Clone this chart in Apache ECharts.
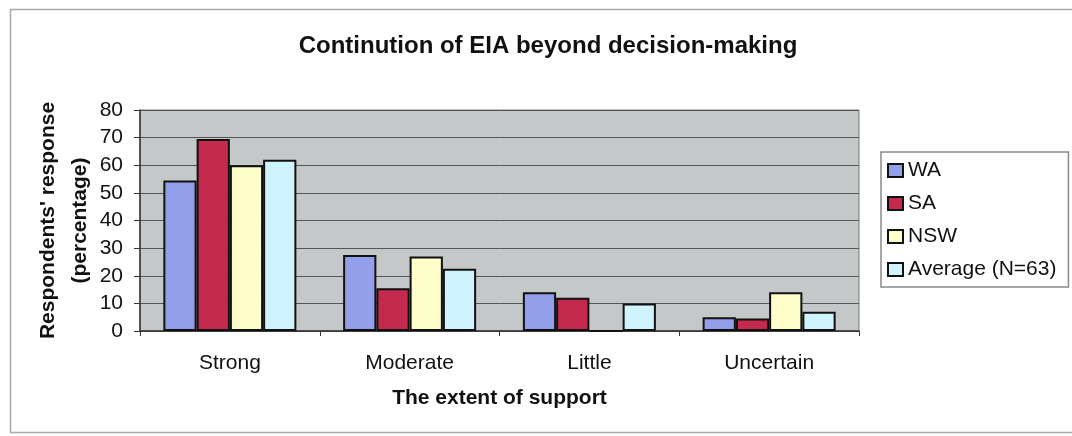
<!DOCTYPE html>
<html>
<head>
<meta charset="utf-8">
<style>
  html, body { margin: 0; padding: 0; background: #fff; }
  #chart { width: 1072px; height: 436px; }
</style>
<script src="https://cdn.jsdelivr.net/npm/echarts@6/dist/echarts.min.js"></script>
</head>
<body>
<div id="chart"></div>
<script>
// Extent of support for continuing EIA after decision-making (percent of respondents)
const categories = ['Strong', 'Moderate', 'Little', 'Uncertain'];
const waValues = [54.5, 27.5, 14, 5];
const saValues = [69.5, 15.5, 12, 4.5];
const nswValues = [60, 27, 0, 14];
const averageValues = [62, 22.5, 10, 7];
const seriesNames = ['WA', 'SA', 'NSW', 'Average (N=63)'];
const yTicks = [0, 10, 20, 30, 40, 50, 60, 70, 80];

const FONT = '"Liberation Sans", Arial, sans-serif';
const colors = ['#939fe8', '#c42a4e', '#ffffcc', '#cff3ff'];
const seriesData = [waValues, saValues, nswValues, averageValues];

const chart = echarts.init(document.getElementById('chart'), null, { renderer: 'canvas' });

const option = {
  animation: false,
  backgroundColor: '#ffffff',
  textStyle: { fontFamily: FONT },
  title: {
    text: 'Continution of EIA beyond decision-making',
    left: 543,
    top: 29,
    textAlign: 'center',
    textStyle: { fontFamily: FONT, fontSize: 24, fontWeight: 'bold', color: '#111' }
  },
  graphic: [
    {
      type: 'rect',
      shape: { x: 10.5, y: 9.5, width: 1070, height: 423 },
      style: { fill: null, stroke: '#a8a8a8', lineWidth: 1.5 },
      silent: true,
      z: -1
    }
  ],
  legend: {
    orient: 'vertical',
    left: 881,
    top: 152,
    padding: [8, 12, 7, 6],
    itemWidth: 15,
    itemHeight: 13,
    itemGap: 12,
    borderColor: '#8a8a8a',
    borderWidth: 1.5,
    backgroundColor: '#ffffff',
    icon: 'rect',
    textStyle: { fontFamily: FONT, fontSize: 21, color: '#111' },
    data: seriesNames
  },
  grid: {
    left: 140,
    top: 110,
    width: 719,
    height: 221,
    show: true,
    backgroundColor: '#c4c8c8',
    borderColor: '#777',
    borderWidth: 1
  },
  xAxis: {
    type: 'category',
    data: categories,
    name: 'The extent of support',
    nameLocation: 'middle',
    nameGap: 57,
    nameMoveOverlap: false,
    nameTextStyle: { fontFamily: FONT, fontSize: 21, fontWeight: 'bold', color: '#111' },
    axisLine: { lineStyle: { color: '#333', width: 1.5 } },
    axisTick: { show: true, length: 5, alignWithLabel: false, lineStyle: { color: '#333' } },
    axisLabel: { fontFamily: FONT, fontSize: 21, color: '#111', margin: 22 },
    splitLine: { show: false }
  },
  yAxis: {
    type: 'value',
    min: yTicks[0],
    max: yTicks[yTicks.length - 1],
    interval: yTicks[1] - yTicks[0],
    name: "Respondents' response\n(percentage)",
    nameLocation: 'middle',
    nameGap: 44,
    nameMoveOverlap: false,
    nameTextStyle: { fontFamily: FONT, fontSize: 21, fontWeight: 'bold', color: '#111', lineHeight: 32 },
    axisLine: { show: true, lineStyle: { color: '#333', width: 1.5 } },
    axisTick: { show: true, length: 6, lineStyle: { color: '#333' } },
    axisLabel: { fontFamily: FONT, fontSize: 21, color: '#111', margin: 17 },
    splitLine: { show: true, lineStyle: { color: '#555', width: 1 } }
  },
  series: seriesNames.map((name, i) => ({
    name: name,
    type: 'bar',
    data: seriesData[i],
    barGap: '0%',
    barCategoryGap: '26%',
    itemStyle: {
      color: colors[i],
      borderColor: '#111',
      borderWidth: 2
    },
    emphasis: { disabled: true }
  }))
};

chart.setOption(option);
</script>
</body>
</html>
